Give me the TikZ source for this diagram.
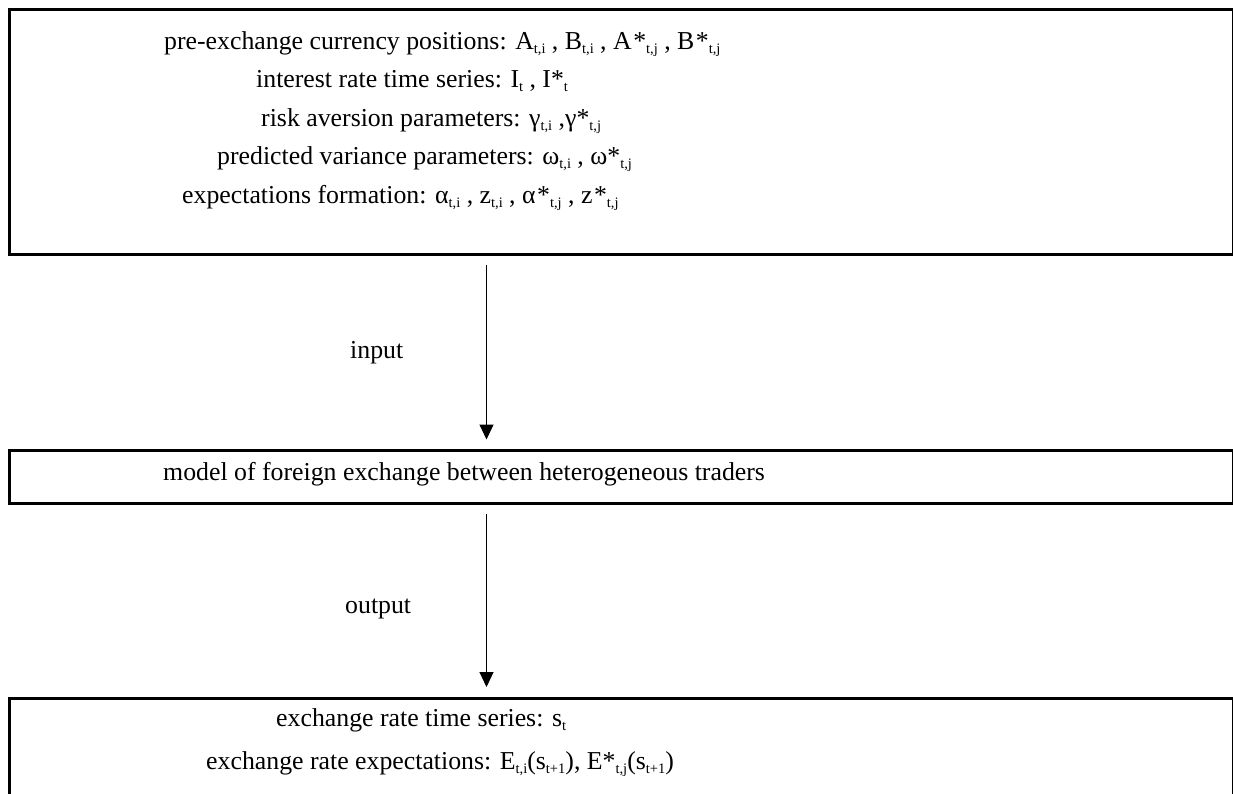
\documentclass[tikz,border=0pt]{standalone}
\usepackage{fontspec}
\setmainfont{Liberation Serif}
\usetikzlibrary{arrows.meta}
\newcommand{\sbs}[1]{\raisebox{-4pt}{\fontsize{14.5}{14.5}\selectfont #1}}
\newcommand{\st}{\hspace{1.5pt}*}
\tikzset{
  boxnode/.style={draw=none, rectangle, inner sep=0pt, anchor=north west},
  thickedge/.style={line width=3pt, line cap=rect},
  thinedge/.style={line width=1pt},
  txt/.style={anchor=base west, inner sep=0pt, font=\fontsize{25.8}{30}\selectfont},
  arr/.style={line width=1pt, -{Triangle[width=14pt,length=15pt]}, shorten <=10pt, shorten >=11pt}
}
\begin{document}
\begin{tikzpicture}[x=1pt,y=-1pt]
\useasboundingbox (0,0) rectangle (1233,793);
% boxes
\node[boxnode, minimum width=1223pt, minimum height=245pt] (top) at (9.5,9.5) {};
\node[boxnode, minimum width=1223pt, minimum height=53pt] (mid) at (9.5,450.5) {};
\node[boxnode, minimum width=1223pt, minimum height=110pt] (bot) at (9.5,698) {};
\draw[thickedge] (top.north east) -- (top.north west) -- (top.south west) -- (top.south east);
\draw[thinedge] (top.north east) -- (top.south east);
\draw[thickedge] (mid.north east) -- (mid.north west) -- (mid.south west) -- (mid.south east);
\draw[thinedge] (mid.north east) -- (mid.south east);
\draw[thickedge] (bot.south west) -- (bot.north west) -- (bot.north east);
\draw[thinedge] (bot.north east) -- (bot.south east);
% arrows
\coordinate (ax) at (486.5,0);
\draw[arr] (top.south -| ax) -- (mid.north -| ax);
\draw[arr] (mid.south -| ax) -- (bot.north -| ax);
% texts
\node[txt] (l1) at (164,49) {pre-exchange currency positions: A\sbs{t,i} , B\sbs{t,i} , A\st\sbs{t,j} , B\st\sbs{t,j}};
\node[txt] (l2) at (256,87) {interest rate time series: I\sbs{t} , I*\sbs{t}};
\node[txt] (l3) at (261,126) {risk aversion parameters: γ\sbs{t,i} ,γ*\sbs{t,j}};
\node[txt] (l4) at (217,164) {predicted variance parameters: ω\sbs{t,i} , ω*\sbs{t,j}};
\node[txt] (l5) at (182,203) {expectations formation: α\sbs{t,i} , z\sbs{t,i} , α\st\sbs{t,j} , z\st\sbs{t,j}};
\node[txt] (lin) at (350,358) {input};
\node[txt] (lmid) at (163,480) {model of foreign exchange between heterogeneous traders};
\node[txt] (lout) at (345,613) {output};
\node[txt] (b1) at (276,726) {exchange rate time series: s\sbs{t}};
\node[txt] (b2) at (206,769) {exchange rate expectations: E\sbs{t,i}(s\sbs{t+1}), E*\sbs{t,j}(s\sbs{t+1})};
\end{tikzpicture}
\end{document}
